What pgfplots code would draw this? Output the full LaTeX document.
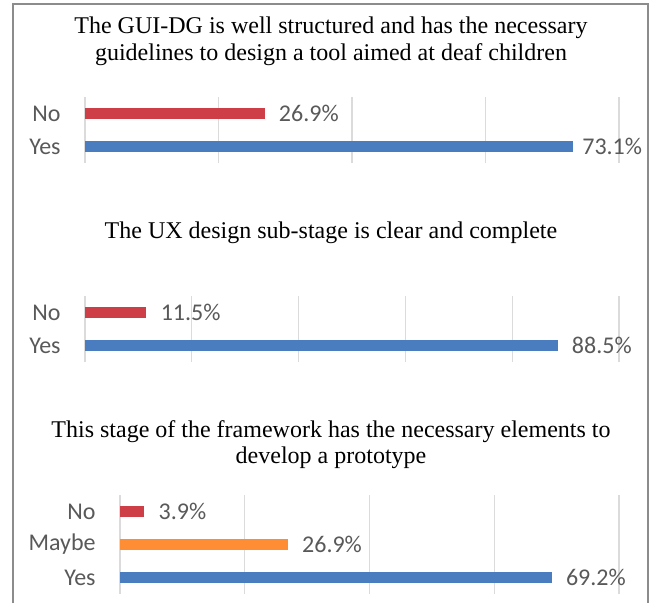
\documentclass[border=0pt]{standalone}
\usepackage{pgfplots}
\pgfplotsset{compat=1.18}
\usepackage{fontspec}
\setmainfont{Liberation Serif}
\newfontfamily\calfont{Carlito}

\definecolor{noRed}{HTML}{CD3E47}
\definecolor{yesBlue}{HTML}{4A7DC0}
\definecolor{mayOrange}{HTML}{FF8D33}
\definecolor{lblGray}{HTML}{595959}
\definecolor{frameGray}{HTML}{8C8C8C}

\pgfplotsset{
  surv/.style={
    xbar, bar width=5.5pt, bar shift=0pt,
    scale only axis,
    xmin=0, ymin=-0.5,
    axis line style={draw=none},
    major tick length=0pt,
    xmajorgrids, grid style={gray!28, line width=0.6pt},
    xticklabels={},
    /pgf/number format/assume math mode=true,
    yticklabel style={font=\calfont\fontsize{12}{14}\selectfont, text=lblGray, inner sep=0pt, xshift=-12pt},
    point meta=x,
    nodes near coords={\pgfmathprintnumber[fixed,precision=1,fixed zerofill,assume math mode=true]{\pgfplotspointmeta}\%},
    every node near coord/.append style={font=\calfont\fontsize{12}{14}\selectfont, text=lblGray, anchor=west, inner sep=0pt, xshift=7pt},
    clip=false,
  },
}

\begin{document}
\begin{tikzpicture}
\begin{scope}[x=0.5pt, y=-0.5pt]
\useasboundingbox (0,0) rectangle (652,603);
\draw[frameGray, line width=0.7pt] (13,603) -- (13,4) -- (648,4) -- (648,603);
% titles
\begin{scope}[every node/.style={anchor=base, inner sep=0pt, font=\fontsize{12}{14}\selectfont}]
\node at (331,34) {The GUI-DG is well structured and has the necessary};
\node at (331,61) {guidelines to design a tool aimed at deaf children};
\node at (331,238) {The UX design sub-stage is clear and complete};
\node at (331,437) {This stage of the framework has the necessary elements to};
\node at (331,463) {develop a prototype};
\end{scope}
\end{scope}

% panel 1
\begin{axis}[surv, at={({85*0.5pt},{-163*0.5pt})}, anchor=south west,
  width=267pt, height=33pt, xmax=80, xtick={0,20,...,80},
  ymax=1.5, ytick={0,1}, yticklabels={Yes,No}]
\addplot[fill=yesBlue, draw=none, every node near coord/.append style={xshift=-2.5pt}] coordinates {(73.1,0)};
\addplot[fill=noRed, draw=none] coordinates {(26.9,1)};
\end{axis}

% panel 2
\begin{axis}[surv, at={({85*0.5pt},{-362*0.5pt})}, anchor=south west,
  width=267pt, height=33pt, xmax=100, xtick={0,20,...,100},
  ymax=1.5, ytick={0,1}, yticklabels={Yes,No}]
\addplot[fill=yesBlue, draw=none] coordinates {(88.5,0)};
\addplot[fill=noRed, draw=none] coordinates {(11.5,1)};
\end{axis}

% panel 3
\begin{axis}[surv, at={({120*0.5pt},{-594*0.5pt})}, anchor=south west,
  width=249.5pt, height=49.5pt, xmax=80, xtick={0,20,...,80},
  ymax=2.5, ytick={0,1,2}, yticklabels={Yes,Maybe,No}]
\addplot[fill=yesBlue, draw=none] coordinates {(69.2,0)};
\addplot[fill=mayOrange, draw=none] coordinates {(26.9,1)};
\addplot[fill=noRed, draw=none] coordinates {(3.9,2)};
\end{axis}
\end{tikzpicture}
\end{document}
